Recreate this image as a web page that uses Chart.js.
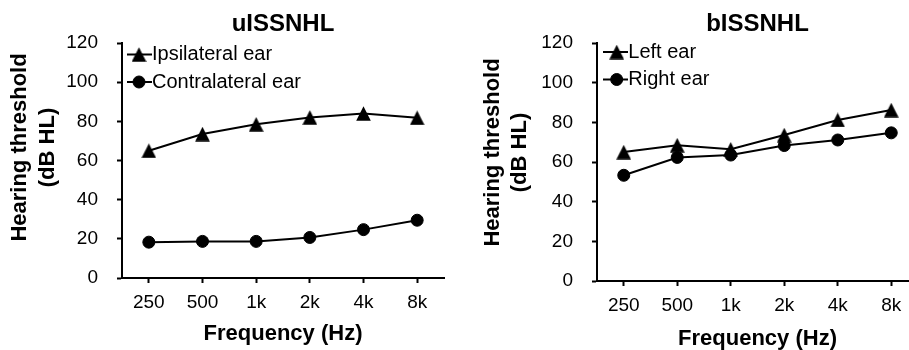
<!DOCTYPE html>
<html><head><meta charset="utf-8">
<script src="https://cdn.jsdelivr.net/npm/chart.js@4/dist/chart.umd.min.js"></script>
<style>
html,body{margin:0;padding:0;background:#fff;}
#wrap{position:relative;width:909px;height:350px;overflow:hidden;background:#fff;}
#c1box{position:absolute;left:0;top:0;width:460px;height:350px;}
#c2box{position:absolute;left:460px;top:0;width:449px;height:350px;overflow:hidden;}
canvas{display:block;}
</style></head><body>
<div id="wrap">
<div id="c1box"><canvas id="c1" width="460" height="350"></canvas></div>
<div id="c2box"><canvas id="c2" width="472" height="350"></canvas></div>
</div>
<script>
// ---- data ----
const frequencies = ['250', '500', '1k', '2k', '4k', '8k'];
const yTickValues = [0, 20, 40, 60, 80, 100, 120];
const yTitle = ['Hearing threshold', '(dB HL)'];
const xTitle = 'Frequency (Hz)';

const uTitle = 'uISSNHL';
const uLabels = ['Ipsilateral ear', 'Contralateral ear'];
const uIpsilateral = [65, 73.5, 78.5, 82, 84, 81.8];
const uContralateral = [18.3, 18.7, 18.7, 20.7, 24.7, 29.5];

const bTitle = 'bISSNHL';
const bLabels = ['Left ear', 'Right ear'];
const bLeft = [65, 68.5, 66.4, 73.6, 81.2, 86.2];
const bRight = [53.3, 62.3, 63.5, 68.3, 71.1, 74.7];

const F = '"Liberation Sans", Arial, Helvetica, sans-serif';

// Excel-like isoceles triangle marker (as a point style image)
const triMarker = (() => {
  const c = document.createElement('canvas');
  c.width = 15; c.height = 15;
  const g = c.getContext('2d');
  g.fillStyle = '#000';
  g.beginPath(); g.moveTo(7.5, 0.3); g.lineTo(14.8, 14.7); g.lineTo(0.2, 14.7); g.closePath(); g.fill();
  return c;
})();

// legend drawn inside the plot area: short line + marker + label
const insideLegend = {
  id: 'insideLegend',
  afterDraw(chart, args, o) {
    const ctx = chart.ctx, a = chart.chartArea;
    ctx.save();
    chart.data.datasets.forEach((ds, i) => {
      const y = a.top + o.rows[i];
      ctx.strokeStyle = ds.borderColor; ctx.lineWidth = ds.borderWidth;
      ctx.beginPath(); ctx.moveTo(a.left + o.segStart, y); ctx.lineTo(a.left + o.segEnd, y); ctx.stroke();
      ctx.fillStyle = ds.pointBackgroundColor; ctx.strokeStyle = ds.pointBorderColor; ctx.lineWidth = ds.pointBorderWidth;
      Chart.helpers.drawPoint(ctx, {pointStyle: ds.pointStyle, radius: ds.pointRadius, rotation: 0, borderWidth: ds.pointBorderWidth}, a.left + o.marker, y);
      ctx.fillStyle = '#000'; ctx.font = '20px ' + F; ctx.textAlign = 'left'; ctx.textBaseline = 'middle';
      ctx.fillText(ds.label, a.left + o.text, y);
    });
    ctx.restore();
  }
};

// two-line rotated y-axis title
const yAxisTitle = {
  id: 'yAxisTitle',
  afterDraw(chart, args, o) {
    const ctx = chart.ctx, a = chart.chartArea;
    const cy = (a.top + a.bottom) / 2 + o.dy;
    ctx.save();
    ctx.fillStyle = '#000'; ctx.font = 'bold 22px ' + F; ctx.textAlign = 'center'; ctx.textBaseline = 'middle';
    o.lines.forEach((t, i) => {
      ctx.save(); ctx.translate(o.xs[i], cy); ctx.rotate(-Math.PI / 2); ctx.fillText(t, 0, 0); ctx.restore();
    });
    ctx.restore();
  }
};

function makeChart(id, title, labels, s1, s2, opt) {
  const common = {borderColor: '#000', borderWidth: 2, pointBackgroundColor: '#000', pointBorderColor: '#000', pointBorderWidth: 1, tension: 0, fill: false};
  return new Chart(document.getElementById(id), {
    type: 'line',
    data: {
      labels: frequencies,
      datasets: [
        Object.assign({label: labels[0], data: s1, pointStyle: triMarker, pointRadius: 7.5}, common),
        Object.assign({label: labels[1], data: s2, pointStyle: 'circle', pointRadius: 6}, common)
      ]
    },
    plugins: [insideLegend, yAxisTitle],
    options: {
      responsive: false, animation: false, devicePixelRatio: 1,
      layout: {padding: {left: 0, right: opt.padRight, top: 0, bottom: 0}},
      plugins: {
        legend: {display: false}, tooltip: {enabled: false},
        title: {display: true, text: title, fullSize: false, color: '#000',
          font: {family: F, size: 24, weight: 'bold', lineHeight: 1.2}, padding: {top: 10, bottom: 4.2}},
        insideLegend: opt.legend,
        yAxisTitle: {lines: yTitle, xs: opt.yTitleXs, dy: opt.yTitleDy}
      },
      scales: {
        x: {
          type: 'category', offset: true,
          grid: {display: true, drawOnChartArea: false, offset: false, tickLength: 5, tickWidth: 2, tickColor: '#000'},
          border: {display: true, color: '#000', width: 2},
          ticks: {color: '#000', font: {family: F, size: 19}, padding: 8.5, maxRotation: 0, autoSkip: false},
          title: {display: true, text: xTitle, color: '#000', font: {family: F, size: 22, weight: 'bold', lineHeight: 1}, padding: {top: 0, bottom: opt.xTitlePad}},
          afterFit(s) { s.height = opt.xHeight; }
        },
        y: {
          min: 0, max: 120,
          afterBuildTicks(s) { s.ticks = yTickValues.map(v => ({value: v})); },
          grid: {display: true, drawOnChartArea: false, tickLength: 5, tickWidth: 2, tickColor: '#000'},
          border: {display: true, color: '#000', width: 2},
          ticks: {color: '#000', font: {family: F, size: 19}, padding: 19},
          title: {display: false},
          afterFit(s) { s.width = opt.yWidth; }
        }
      }
    }
  });
}

makeChart('c1', uTitle, uLabels, uIpsilateral, uContralateral, {
  padRight: 16, xHeight: 72, yWidth: 122, xTitlePad: 5.5,
  yTitleXs: [20, 48], yTitleDy: -13,
  legend: {rows: [11.5, 39], segStart: 5, segEnd: 30, marker: 17, text: 30}
});
makeChart('c2', bTitle, bLabels, bLeft, bRight, {
  padRight: 14, xHeight: 69, yWidth: 137, xTitlePad: 0,
  yTitleXs: [33, 60], yTitleDy: -9.5,
  legend: {rows: [9, 36.5], segStart: 6, segEnd: 31, marker: 19.7, text: 31.3}
});
</script>
</body></html>
